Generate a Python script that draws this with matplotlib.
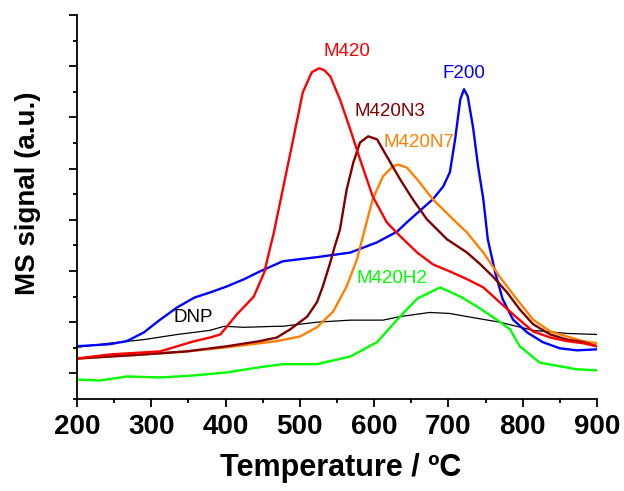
import matplotlib
matplotlib.use('Agg')
import matplotlib.pyplot as plt
from matplotlib.ticker import MultipleLocator

plt.rcParams['font.family'] = ['Liberation Sans', 'DejaVu Sans']

# temperatura (ºC) e sinal MS (u.a.)
t_m420 = [200, 244, 290, 312, 335, 358, 379, 393, 415, 438, 452, 465, 477, 491, 504, 516, 526, 533,
          541, 554, 568, 581, 598, 617, 635, 658, 679, 702, 725, 747, 769, 792, 814, 837, 860, 881, 900]
s_m420 = [0.29, 0.37, 0.41, 0.43, 0.53, 0.63, 0.70, 0.76, 1.15, 1.50, 1.97, 2.75, 3.59, 4.57, 5.49, 5.88, 5.96, 5.92,
          5.80, 5.35, 4.76, 4.18, 3.46, 2.95, 2.68, 2.36, 2.13, 1.99, 1.84, 1.68, 1.39, 1.09, 0.82, 0.70, 0.63, 0.59, 0.53]

t_f200 = [200, 244, 267, 290, 312, 335, 358, 379, 402, 425, 446, 477, 523, 568, 604, 631, 644, 679,
          693, 702, 709, 716, 721, 726, 733, 740, 747, 753, 763, 773, 787, 806, 827, 850, 873, 900]
s_f200 = [0.53, 0.57, 0.63, 0.80, 1.05, 1.29, 1.48, 1.58, 1.70, 1.84, 1.99, 2.19, 2.27, 2.36, 2.56, 2.77, 2.95, 3.40,
          3.65, 3.93, 4.57, 5.35, 5.55, 5.41, 4.82, 4.04, 3.40, 2.62, 1.97, 1.45, 1.05, 0.80, 0.61, 0.49, 0.45, 0.47]

t_n3 = [200, 244, 290, 348, 402, 446, 469, 487, 510, 523, 531, 541, 547, 554, 563, 572, 581, 592,
        604, 617, 635, 652, 671, 698, 725, 743, 760, 779, 796, 814, 837, 860, 881, 900]
s_n3 = [0.29, 0.33, 0.37, 0.43, 0.53, 0.63, 0.70, 0.86, 1.11, 1.39, 1.70, 2.17, 2.48, 2.81, 3.59, 4.12, 4.51, 4.63,
        4.57, 4.24, 3.79, 3.40, 3.01, 2.62, 2.36, 2.13, 1.89, 1.58, 1.25, 0.96, 0.76, 0.66, 0.61, 0.53]

t_n7 = [200, 290, 348, 402, 469, 500, 523, 545, 563, 577, 585, 598, 612, 625, 632, 644, 658, 679,
        702, 725, 747, 769, 792, 814, 837, 860, 881, 900]
s_n7 = [0.29, 0.37, 0.43, 0.51, 0.63, 0.72, 0.90, 1.21, 1.70, 2.23, 2.68, 3.40, 3.85, 4.04, 4.08, 4.02, 3.79, 3.40,
        3.07, 2.75, 2.36, 1.89, 1.45, 1.05, 0.82, 0.72, 0.63, 0.59]

t_h2 = [200, 231, 267, 312, 358, 402, 446, 477, 523, 568, 604, 631, 658, 689, 716, 738, 765, 783,
        796, 823, 850, 873, 900]
s_h2 = [-0.12, -0.14, -0.06, -0.08, -0.04, 0.02, 0.12, 0.18, 0.18, 0.33, 0.61, 1.05, 1.46, 1.68, 1.50, 1.31, 1.05, 0.86,
        0.53, 0.21, 0.14, 0.08, 0.06]

t_dnp = [200, 244, 290, 335, 379, 398, 425, 469, 477, 523, 568, 612, 635, 675, 702, 725, 769, 814, 860, 900]
s_dnp = [0.51, 0.59, 0.66, 0.76, 0.84, 0.92, 0.90, 0.92, 0.92, 1.00, 1.04, 1.04, 1.11, 1.19, 1.17, 1.11, 1.00, 0.84, 0.78, 0.76]

rotulos = ['M420', 'F200', 'M420N3', 'M420N7', 'M420H2', 'DNP']
rot_x = [563, 721, 621, 660, 624, 356]
rot_y = [6.29, 5.86, 5.12, 4.51, 1.86, 1.09]
cores = ['#ff0000', '#0000ff', '#800000', '#ff8000', '#00ff00', 'black']

fig = plt.figure(figsize=(6.24, 4.91), dpi=100)
ax = fig.add_axes([0.1234, 0.1874, 0.8333, 0.7821])

ax.plot(t_dnp, s_dnp, color='black', lw=0.9)
ax.plot(t_h2, s_h2, color=cores[4], lw=1.7)
ax.plot(t_f200, s_f200, color=cores[1], lw=1.7)
ax.plot(t_n7, s_n7, color=cores[3], lw=1.7)
ax.plot(t_n3, s_n3, color=cores[2], lw=1.7)
ax.plot(t_m420, s_m420, color=cores[0], lw=1.7)

for r, x, y, c in zip(rotulos, rot_x, rot_y, cores):
    ax.text(x, y, r, color=c, fontsize=13.5, ha='center', va='center')

ax.set_xlim(200, 900)
ax.set_ylim(-0.5, 7)
ax.xaxis.set_major_locator(MultipleLocator(100))
ax.xaxis.set_minor_locator(MultipleLocator(50))
ax.yaxis.set_major_locator(MultipleLocator(1))
ax.yaxis.set_minor_locator(MultipleLocator(0.5))
ax.set_yticklabels([])
ax.tick_params(which='major', length=5.5, width=1.3, direction='out', labelsize=20, pad=5)
ax.tick_params(which='minor', length=3, width=1.3, direction='out')
for lbl in ax.get_xticklabels():
    lbl.set_fontweight('bold')

ax.spines['top'].set_visible(False)
ax.spines['right'].set_visible(False)
ax.spines['left'].set_linewidth(1.3)
ax.spines['bottom'].set_linewidth(1.3)

ax.set_xlabel('Temperature / ºC', fontsize=22, fontweight='bold', va='center')
ax.xaxis.set_label_coords(0.507, -0.18)
ax.set_ylabel('MS signal (a.u.)', fontsize=20, fontweight='bold', va='center')
ax.yaxis.set_label_coords(-0.094, 0.536)

fig.savefig('out.png', dpi=100)
